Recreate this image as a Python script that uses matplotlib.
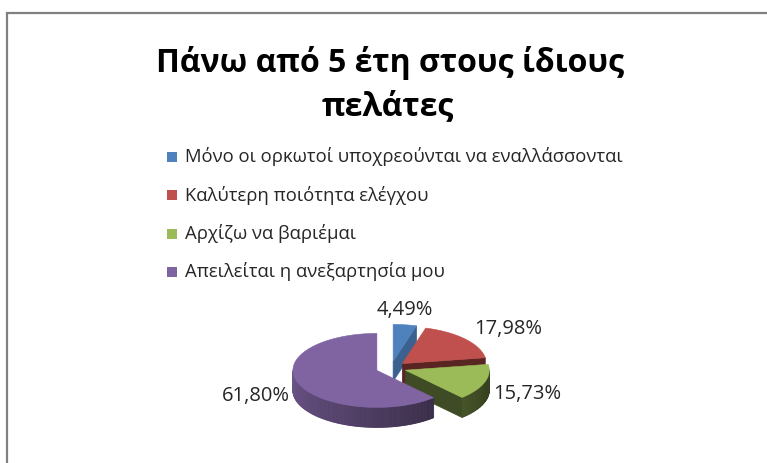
import numpy as np
import matplotlib.pyplot as plt
from matplotlib.patches import Polygon, Rectangle
from matplotlib.colors import to_rgb

plt.rcParams['font.family'] = ['Open Sans', 'DejaVu Sans']

title_lines = ['Πάνω από 5 έτη στους ίδιους', 'πελάτες']
categories = ['Μόνο οι ορκωτοί υποχρεούνται να εναλλάσσονται',
              'Καλύτερη ποιότητα ελέγχου',
              'Αρχίζω να βαριέμαι',
              'Απειλείται η ανεξαρτησία μου']
shares = [4.49, 17.98, 15.73, 61.80]
colors = ['#4F81BD', '#C0504D', '#9BBB59', '#8064A2']

W, H = 767, 463
fig = plt.figure(figsize=(W / 100, H / 100), dpi=100)
ax = fig.add_axes([0, 0, 1, 1])
ax.set_xlim(0, W)
ax.set_ylim(H, 0)
ax.axis('off')

# chart area border (only top and left edges fall inside the image)
ax.plot([6.5, 6.5, W + 5], [H + 5, 12.5, 12.5], color='#808080', lw=1.6,
        solid_joinstyle='miter', clip_on=False)

# title
ax.text(390, 72, title_lines[0], ha='center', va='baseline',
        fontsize=23, fontweight='bold', color='black')
ax.text(388, 115, title_lines[1], ha='center', va='baseline',
        fontsize=23, fontweight='bold', color='black')

# legend
leg_x, leg_y0, leg_dy = 167, 157, 38.3
for i, (name, col) in enumerate(zip(categories, colors)):
    y = leg_y0 + i * leg_dy
    ax.add_patch(Rectangle((leg_x, y - 5), 10, 10, facecolor=col, edgecolor='none'))
    ax.text(leg_x + 18, y, name, ha='left', va='center', fontsize=13.3, color='#262626')

# 3D exploded pie, drawn as projected polygons
cx, cy = 391, 368
rx, ry = 84, 37
depth = 20
explode = 0.18


def rim_shade(col, normal_deg):
    n = normal_deg % 360
    k = 0.85 - 0.45 * (n - 180) / 150
    k = min(max(k, 0.35), 0.85)
    return tuple(c * k for c in to_rgb(col))


def cut_shade(col, normal_deg):
    k = 0.4 + 0.35 * max(0.0, np.cos(np.radians(normal_deg - 345))) ** 2
    return tuple(c * k for c in to_rgb(col))


def ring(ox, oy, a, dz=0.0):
    r = np.radians(a)
    return ox + rx * np.cos(r), oy - ry * np.sin(r) + dz


slices = []
start = 90.0
for share, col, name in zip(shares, colors, categories):
    a1 = start
    a0 = start - share * 3.6
    start = a0
    mid = np.radians((a0 + a1) / 2)
    ox = cx + explode * rx * np.cos(mid)
    oy = cy - explode * ry * np.sin(mid)
    slices.append(dict(a0=a0, a1=a1, mid=mid, ox=ox, oy=oy, col=col, share=share))

for s in sorted(slices, key=lambda d: d['oy']):
    a0, a1, ox, oy, col = s['a0'], s['a1'], s['ox'], s['oy'], s['col']

    # radial cut faces
    for a, normal in ((a0, a0 - 90), (a1, a1 + 90)):
        if np.sin(np.radians(normal)) < -1e-6:
            ex, ey = ring(ox, oy, a)
            quad = [(ox, oy), (ex, ey), (ex, ey + depth), (ox, oy + depth)]
            c = cut_shade(col, normal)
            ax.add_patch(Polygon(quad, closed=True, facecolor=c, edgecolor=c, lw=0.5))

    # outer rim, split into thin strips for shading
    angs = np.linspace(a0, a1, max(int(a1 - a0), 2) + 1)
    for b0, b1 in zip(angs[:-1], angs[1:]):
        m = (b0 + b1) / 2
        if np.sin(np.radians(m)) >= 0:
            continue
        p0, p1 = ring(ox, oy, b0), ring(ox, oy, b1)
        quad = [p0, p1, (p1[0], p1[1] + depth), (p0[0], p0[1] + depth)]
        c = rim_shade(col, m)
        ax.add_patch(Polygon(quad, closed=True, facecolor=c, edgecolor=c, lw=0.6))

    # top face
    arc = [ring(ox, oy, a) for a in np.linspace(a0, a1, 120)]
    ax.add_patch(Polygon([(ox, oy)] + arc, closed=True, facecolor=col,
                         edgecolor=col, lw=0.4))

    # value label, placed just outside the slice edge
    m = s['mid']
    ex = ox + rx * np.cos(m)
    gap = 9
    if np.cos(m) > 0.3:
        ha, lx = 'left', ex + gap
    elif np.cos(m) < -0.3:
        ha, lx = 'right', ex - gap
    else:
        ha, lx = 'center', ex
    ly = oy - 1.4 * ry * np.sin(m)
    if np.sin(m) < 0:
        ly += depth * 0.35
    ax.text(lx, ly, f"{s['share']:.2f}%".replace('.', ','), ha=ha, va='center',
            fontsize=14.5, color='#262626')

fig.savefig('out.png', dpi=100)
